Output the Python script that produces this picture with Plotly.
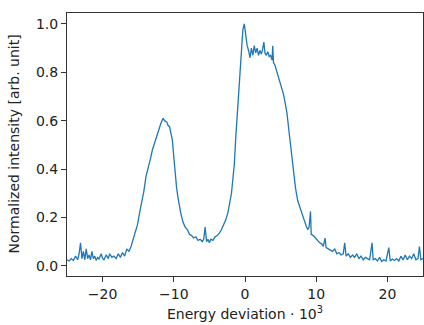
import plotly.graph_objects as go

energy = [
    -25.0, -24.7, -24.4, -24.1, -23.8, -23.5, -23.3, -23.1, -22.9, -22.7, -22.5, -22.3, -22.1,
    -21.9, -21.7, -21.5, -21.3, -21.1, -20.9, -20.7, -20.5, -20.2, -20.0, -19.8, -19.5, -19.2,
    -19.0, -18.7, -18.4, -18.1, -17.8, -17.5, -17.2, -16.9, -16.6, -16.3, -16.0, -15.7, -15.4,
    -15.1, -14.8, -14.5, -14.2, -13.9, -13.6, -13.3, -13.0, -12.7, -12.4, -12.1, -11.8, -11.5,
    -11.3, -11.0, -10.8, -10.6, -10.4, -10.2, -10.0, -9.8, -9.6, -9.4, -9.2, -9.0, -8.7, -8.4,
    -8.1, -7.8, -7.5, -7.2, -6.9, -6.6, -6.3, -6.0, -5.8, -5.6, -5.4, -5.2, -5.0, -4.8, -4.5,
    -4.2, -3.9, -3.6, -3.3, -3.0, -2.7, -2.4, -2.1, -1.9, -1.7, -1.5, -1.3, -1.1, -0.9, -0.7,
    -0.5, -0.3, -0.1, 0.1, 0.3, 0.5, 0.7, 0.9, 1.1, 1.3, 1.5, 1.7, 1.9, 2.1, 2.3, 2.5, 2.65,
    2.8, 3.0, 3.2, 3.4, 3.6, 3.8, 3.9, 4.0, 4.2, 4.5, 4.8, 5.1, 5.4, 5.6, 5.9, 6.2, 6.5, 6.8,
    7.1, 7.4, 7.7, 8.0, 8.3, 8.6, 8.8, 9.0, 9.2, 9.3, 9.6, 9.9, 10.2, 10.5, 10.8, 11.0, 11.25,
    11.4, 11.7, 12.0, 12.3, 12.6, 12.9, 13.2, 13.5, 13.8, 14.0, 14.2, 14.5, 14.8, 15.1, 15.4,
    15.7, 16.0, 16.3, 16.6, 16.9, 17.2, 17.5, 17.85, 18.0, 18.3, 18.6, 18.9, 19.2, 19.5, 19.8,
    20.2, 20.4, 20.7, 21.0, 21.3, 21.6, 21.9, 22.2, 22.5, 22.8, 23.1, 23.4, 23.7, 24.0, 24.3,
    24.5, 24.7, 25.0,
]

intensity = [
    0.025, 0.02, 0.03, 0.022, 0.04, 0.025, 0.05, 0.095, 0.03, 0.06, 0.025, 0.07, 0.03,
    0.045, 0.025, 0.06, 0.03, 0.04, 0.022, 0.035, 0.028, 0.05, 0.03, 0.025, 0.045, 0.03,
    0.05, 0.035, 0.04, 0.03, 0.05, 0.035, 0.055, 0.04, 0.07, 0.06, 0.08, 0.11, 0.14,
    0.17, 0.22, 0.26, 0.31, 0.37, 0.40, 0.44, 0.48, 0.51, 0.54, 0.57, 0.59, 0.61,
    0.60, 0.595, 0.58, 0.575, 0.55, 0.52, 0.45, 0.38, 0.32, 0.28, 0.24, 0.215, 0.18, 0.16,
    0.15, 0.13, 0.125, 0.115, 0.12, 0.105, 0.11, 0.10, 0.11, 0.16, 0.10, 0.11, 0.095, 0.11, 0.105,
    0.12, 0.125, 0.135, 0.15, 0.17, 0.19, 0.22, 0.26, 0.30, 0.36, 0.42, 0.53, 0.62, 0.73, 0.84,
    0.92, 0.975, 1.0, 0.95, 0.91, 0.89, 0.86, 0.90, 0.87, 0.91, 0.88, 0.90, 0.87, 0.89, 0.875, 0.90, 0.925,
    0.88, 0.87, 0.885, 0.865, 0.87, 0.85, 0.91, 0.84, 0.83, 0.80, 0.78, 0.75, 0.71, 0.68, 0.63, 0.55, 0.47, 0.39,
    0.32, 0.27, 0.24, 0.215, 0.19, 0.165, 0.15, 0.16, 0.225, 0.13, 0.125, 0.115, 0.105, 0.095, 0.09, 0.08, 0.115,
    0.075, 0.07, 0.065, 0.06, 0.07, 0.05, 0.055, 0.045, 0.05, 0.095, 0.04, 0.05, 0.035, 0.045, 0.035,
    0.05, 0.03, 0.04, 0.025, 0.035, 0.03, 0.025, 0.095, 0.025, 0.03, 0.02, 0.035, 0.018, 0.025, 0.02,
    0.075, 0.02, 0.028, 0.022, 0.03, 0.02, 0.04, 0.024, 0.045, 0.025, 0.04, 0.03, 0.05, 0.025, 0.03,
    0.08, 0.025, 0.03,
]

x_ticks = [-20, -10, 0, 10, 20]
y_ticks = [0.0, 0.2, 0.4, 0.6, 0.8, 1.0]

font = dict(family="DejaVu Sans", size=14, color="#222222")

fig = go.Figure()
fig.add_trace(go.Scatter(x=energy, y=intensity, mode="lines",
                         line=dict(color="#1f77b4", width=1.3), showlegend=False))

axis_common = dict(showline=True, linecolor="#333333", linewidth=1, mirror=True,
                   ticks="outside", ticklen=5, tickcolor="#333333", showgrid=False,
                   zeroline=False, automargin=False, tickfont=font)

fig.update_xaxes(range=[-25, 25], tickvals=x_ticks, **axis_common)
fig.update_yaxes(range=[-0.042, 1.045], tickvals=y_ticks, tickformat=".1f", **axis_common)

fig.add_annotation(text="Energy deviation · 10<sup>3</sup>", xref="paper", yref="paper",
                   x=0.5, y=0, xanchor="center", yanchor="top", yshift=-26,
                   showarrow=False, font=font)
fig.add_annotation(text="Normalized intensity [arb. unit]", xref="paper", yref="paper",
                   x=0, y=0.5, xanchor="right", yanchor="middle", xshift=-44,
                   textangle=-90, showarrow=False, font=font)

fig.update_layout(width=424, height=325, margin=dict(l=67, r=1, t=13, b=49),
                  plot_bgcolor="white", paper_bgcolor="white")

fig.write_html("out.html", config={"displayModeBar": False},
               post_script="document.body.style.margin='0';document.body.style.padding='0';")
